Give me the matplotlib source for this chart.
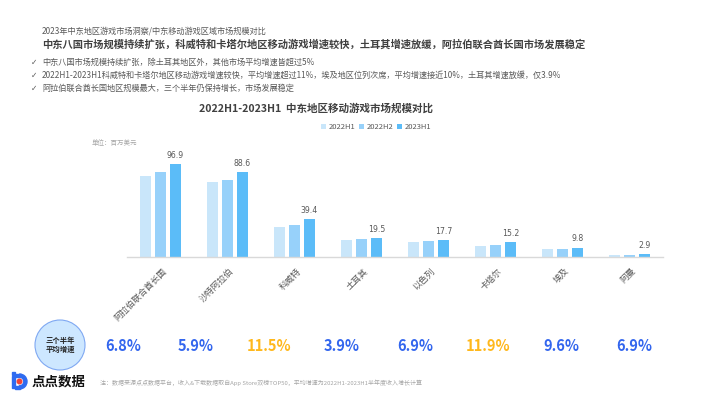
import matplotlib
matplotlib.use('Agg')
import matplotlib.pyplot as plt
import matplotlib.patches as mpatches
import matplotlib.transforms as mtransforms
import numpy as np

plt.rcParams['font.family'] = ['Noto Sans CJK SC', 'DejaVu Sans']

# data
regions = ['阿拉伯联合酋长国', '沙特阿拉伯', '科威特', '土耳其', '以色列', '卡塔尔', '埃及', '阿曼']
h1_2022 = [84.6, 78.6, 31.4, 18.1, 15.2, 12.0, 8.1, 2.4]
h2_2022 = [88.5, 80.6, 33.0, 18.6, 16.3, 13.0, 8.9, 2.6]
h1_2023 = [96.9, 88.6, 39.4, 19.5, 17.7, 15.2, 9.8, 2.9]
series_names = ['2022H1', '2022H2', '2023H1']
growth = ['6.8%', '5.9%', '11.5%', '3.9%', '6.9%', '11.9%', '9.6%', '6.9%']

bullets = [
    '中东八国市场规模持续扩张，除土耳其地区外，其他市场平均增速皆超过5%',
    '2022H1-2023H1科威特和卡塔尔地区移动游戏增速较快，平均增速超过11%，埃及地区位列次席，平均增速接近10%，土耳其增速放缓，仅3.9%',
    '阿拉伯联合酋长国地区规模最大，三个半年仍保持增长，市场发展稳定',
]

colors = ['#C9E6FA', '#97D1FA', '#5BBCF8']
W, H = 710, 399

fig = plt.figure(figsize=(7.1, 3.99), dpi=100)

# background axes in pixel coordinates for all the text around the chart
bg = fig.add_axes([0, 0, 1, 1])
bg.set_xlim(0, W)
bg.set_ylim(H, 0)
bg.axis('off')

bg.text(42, 31, '2023年中东地区游戏市场洞察/中东移动游戏区域市场规模对比',
        fontsize=5.9, color='#595959', va='center')
bg.text(42, 44, '中东八国市场规模持续扩张，科威特和卡塔尔地区移动游戏增速较快，土耳其增速放缓，阿拉伯联合酋长国市场发展稳定',
        fontsize=7.4, fontweight='bold', color='#404040', va='center')
for i, b in enumerate(bullets):
    y = 62 + 13 * i
    bg.text(31, y, '✓', fontsize=5.5, color='#595959', va='center', family=['DejaVu Sans'])
    bg.text(42, y, b, fontsize=5.9, color='#595959', va='center')

bg.text(316, 108, '2022H1-2023H1  中东地区移动游戏市场规模对比',
        fontsize=7.6, fontweight='bold', color='#404040', ha='center', va='center')
bg.text(92, 143, '单位：百万美元', fontsize=4.7, color='#A6A6A6', style='italic', va='center')

# growth row
bg.add_patch(mpatches.Circle((60, 345), 25, facecolor='#CDE7FF', edgecolor='#7FA8F2', lw=0.8))
bg.text(60, 345, '三个半年\n平均增速', fontsize=5.3, fontweight='bold', color='#222222',
        ha='center', va='center', linespacing=1.3)
gx = np.linspace(123, 634, len(growth))
for x, g in zip(gx, growth):
    c = '#FFB81C' if float(g.rstrip('%')) > 10 else '#3366EE'
    bg.text(x, 346, g, fontsize=10.5, fontweight='bold', color=c, ha='center', va='center')

# logo
bg.add_patch(mpatches.Rectangle((12, 376), 3.2, 12, color='#2F6BF0'))
bg.add_patch(mpatches.Rectangle((12, 372), 3.2, 2.6, color='#2F6BF0'))
bg.add_patch(mpatches.Wedge((19.5, 381.5), 7.5, -90, 90, width=3.2, color='#2F6BF0'))
bg.add_patch(mpatches.Rectangle((15, 374), 4.5, 3.2, color='#2F6BF0'))
bg.add_patch(mpatches.Rectangle((15, 385.8), 4.5, 3.2, color='#2F6BF0'))
bg.add_patch(mpatches.Circle((19.5, 381.5), 2.3, color='#F0443A'))
bg.text(32, 382, '点点数据', fontsize=9.7, fontweight='bold', color='#111111', va='center')
bg.text(100, 383, '注：数据来源点点数据平台，收入&下载数据取自App Store双榜TOP50，平均增速为2022H1-2023H1半年度收入增长计算',
        fontsize=4.3, color='#A6A6A6', style='italic', va='center')

# bar chart
x0, x1 = 127, 663
ybase, ytop = 257, 161.5
ax = fig.add_axes([x0 / W, 1 - ybase / H, (x1 - x0) / W, (ybase - ytop) / H])
ax.patch.set_alpha(0)
x = np.arange(len(regions))
bw = 0.175
off = 0.224
for k, (vals, name) in enumerate(zip([h1_2022, h2_2022, h1_2023], series_names)):
    bars = ax.bar(x + (k - 1) * off, vals, width=bw, color=colors[k], label=name)
    if k == 2:
        for rect, v in zip(bars, vals):
            ax.annotate(f'{v:.1f}', (rect.get_x() + rect.get_width() / 2, v),
                        xytext=(0, 3), textcoords='offset points',
                        ha='center', va='bottom', fontsize=5.6, color='#595959',
                        family=['DejaVu Sans'])

ax.set_xlim(-0.5, len(regions) - 0.5)
ax.set_ylim(0, 100)
for s in ['top', 'right', 'left']:
    ax.spines[s].set_visible(False)
ax.spines['bottom'].set_color('#D9D9D9')
ax.spines['bottom'].set_linewidth(1.0)
ax.set_yticks([])
ax.set_xticks(x)
ax.set_xticklabels(regions, rotation=45, ha='right', va='center', rotation_mode='anchor',
                   fontsize=6.3, color='#595959')
ax.tick_params(axis='x', length=0, pad=9)
shift = mtransforms.ScaledTranslation(5 / 100, 0, fig.dpi_scale_trans)
for lab in ax.get_xticklabels():
    lab.set_transform(lab.get_transform() + shift)

fig.legend(loc='center', bbox_to_anchor=(376 / W, 1 - 127 / H), ncol=3, frameon=False,
           fontsize=5.5, handlelength=0.7, handleheight=0.7, handletextpad=0.3,
           columnspacing=0.5, labelcolor='#595959')

fig.savefig('out.png', dpi=100)
